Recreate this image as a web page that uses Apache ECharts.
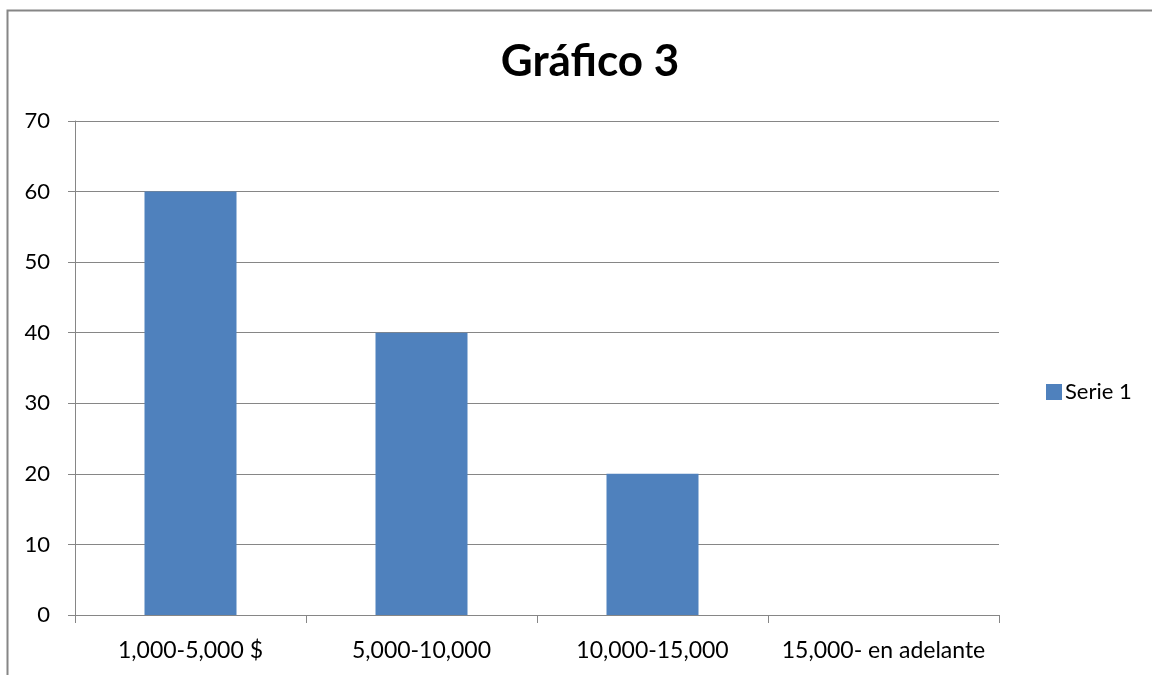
<!DOCTYPE html>
<html>
<head>
<meta charset="utf-8">
<script src="https://cdn.jsdelivr.net/npm/echarts@6/dist/echarts.min.js"></script>
<style>
  html, body { margin: 0; padding: 0; background: #fff; }
  #chart { width: 1152px; height: 675px; }
</style>
</head>
<body>
<div id="chart"></div>
<script>
// datos del gráfico
const categories = ['1,000-5,000 $', '5,000-10,000', '10,000-15,000', '15,000- en adelante']
const serie1 = [60, 40, 20, 0]
const seriesName = 'Serie 1'
const titleText = 'Gráfico 3'

const font = 'Lato, "Open Sans", sans-serif'
const gray = '#868686'

const chart = echarts.init(document.getElementById('chart'), null, { renderer: 'canvas' })

chart.setOption({
  animation: false,
  graphic: [{
    type: 'rect',
    shape: { x: 7.5, y: 10.5, width: 1200, height: 700 },
    style: { fill: 'none', stroke: gray, lineWidth: 2 },
    silent: true
  }],
  title: {
    text: titleText,
    left: 585,
    textAlign: 'center',
    top: 35,
    textStyle: { fontFamily: font, fontSize: 44, fontWeight: 'bold', color: '#000' }
  },
  legend: {
    left: 1041,
    top: 376,
    orient: 'vertical',
    icon: 'rect',
    itemWidth: 16,
    itemHeight: 16,
    itemGap: 6,
    textStyle: { fontFamily: font, fontSize: 22, color: '#000', padding: [0, 0, 0, -2] }
  },
  grid: {
    left: 75,
    right: 153,
    top: 121,
    bottom: 60,
    containLabel: false
  },
  xAxis: {
    type: 'category',
    data: categories,
    axisLine: { lineStyle: { color: gray, width: 1 } },
    axisTick: { show: true, length: 8, inside: false, lineStyle: { color: gray } },
    axisLabel: { fontFamily: font, fontSize: 23, color: '#000', margin: 24, interval: 0 }
  },
  yAxis: {
    type: 'value',
    min: 0,
    max: 70,
    interval: 10,
    axisLine: { show: true, lineStyle: { color: gray, width: 1 } },
    axisTick: { show: true, length: 7, lineStyle: { color: gray } },
    axisLabel: { fontFamily: font, fontSize: 22, color: '#000', margin: 25 },
    splitLine: { show: true, lineStyle: { color: gray, width: 1 } }
  },
  series: [{
    name: seriesName,
    type: 'bar',
    data: serie1,
    barWidth: 92,
    itemStyle: { color: '#4F81BD' }
  }]
})
</script>
</body>
</html>
